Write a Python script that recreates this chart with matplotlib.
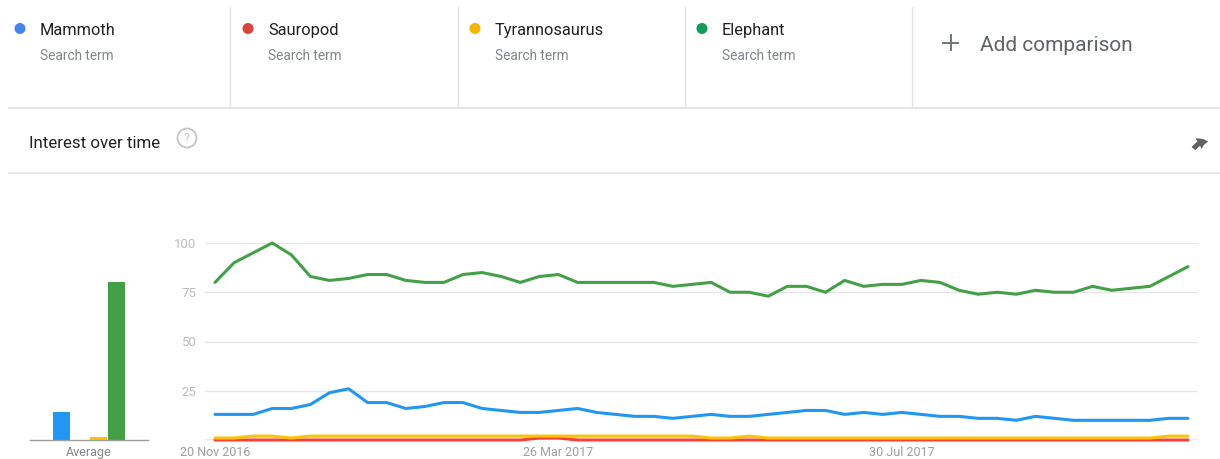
import matplotlib
matplotlib.use("Agg")
import matplotlib.pyplot as plt
from matplotlib.patches import Circle, FancyArrowPatch
import pandas as pd

# ---------------- data ----------------
terms = ["Mammoth", "Sauropod", "Tyrannosaurus", "Elephant"]
subtitle = "Search term"
line_colors = ["#2196F3", "#F44336", "#FFC107", "#43A047"]
dot_colors = ["#4285F4", "#DB4437", "#F4B400", "#0F9D58"]

start_week = "2016-11-20"
n_weeks = 52

mammoth = [13, 13, 13, 16, 16, 18, 24, 26, 19, 19,
           16, 17, 19, 19, 16, 15, 14, 14, 15, 16,
           14, 13, 12, 12, 11, 12, 13, 12, 12, 13,
           14, 15, 15, 13, 14, 13, 14, 13, 12, 12,
           11, 11, 10, 12, 11, 10, 10, 10, 10, 10,
           11, 11]
sauropod = [0, 0, 0, 0, 0, 0, 0, 0, 0, 0,
            0, 0, 0, 0, 0, 0, 0, 1, 1, 0,
            0, 0, 0, 0, 0, 0, 0, 0, 0, 0,
            0, 0, 0, 0, 0, 0, 0, 0, 0, 0,
            0, 0, 0, 0, 0, 0, 0, 0, 0, 0,
            0, 0]
tyrannosaurus = [1, 1, 2, 2, 1, 2, 2, 2, 2, 2,
                 2, 2, 2, 2, 2, 2, 2, 2, 2, 2,
                 2, 2, 2, 2, 2, 2, 1, 1, 2, 1,
                 1, 1, 1, 1, 1, 1, 1, 1, 1, 1,
                 1, 1, 1, 1, 1, 1, 1, 1, 1, 1,
                 2, 2]
elephant = [80, 90, 95, 100, 94, 83, 81, 82, 84, 84,
            81, 80, 80, 84, 85, 83, 80, 83, 84, 80,
            80, 80, 80, 80, 78, 79, 80, 75, 75, 73,
            78, 78, 75, 81, 78, 79, 79, 81, 80, 76,
            74, 75, 74, 76, 75, 75, 78, 76, 77, 78,
            83, 88]
averages = [14, 0, 1.5, 80]

y_ticks = [0, 25, 50, 75, 100]
y_tick_labels = ["", "25", "50", "75", "100"]
x_tick_dates = ["2016-11-20", "2017-03-26", "2017-07-30"]
x_tick_labels = ["20 Nov 2016", "26 Mar 2017", "30 Jul 2017"]

section_title = "Interest over time"
add_text = "Add comparison"
avg_label = "Average"

# ---------------- figure ----------------
plt.rcParams["font.family"] = ["Roboto", "DejaVu Sans"]
W, H = 1220, 459
fig = plt.figure(figsize=(W / 100, H / 100), dpi=100)
fig.patch.set_facecolor("white")

# overlay in pixel coordinates for the header decoration
ov = fig.add_axes([0, 0, 1, 1])
ov.set_xlim(0, W)
ov.set_ylim(H, 0)
ov.axis("off")
ov.patch.set_visible(False)

sep_color = "#e3e3e3"
ov.plot([9, W], [107.5, 107.5], color=sep_color, lw=1.2)
ov.plot([9, W], [173, 173], color=sep_color, lw=1.2)
for xs in [230, 458, 685, 912]:
    ov.plot([xs, xs], [7, 107], color=sep_color, lw=1.0)

item_x = [20, 248, 475, 702]
for x0, term, dc in zip(item_x, terms, dot_colors):
    ov.add_patch(Circle((x0, 28.5), 5.5, color=dc, lw=0))
    ov.text(x0 + 20, 35, term, fontsize=11.8, color="#202124",
            ha="left", va="baseline")
    ov.text(x0 + 20, 59.5, subtitle, fontsize=9.8, color="#80868b",
            ha="left", va="baseline")

# "+ Add comparison"
ov.plot([943, 958], [42.5, 42.5], color="#70757a", lw=1.4)
ov.plot([950.5, 950.5], [35, 50], color="#70757a", lw=1.4)
ov.text(980, 51, add_text, fontsize=15, color="#5f6368",
        ha="left", va="baseline")

# "Interest over time" + help icon + share arrow
ov.text(29, 147.5, section_title, fontsize=12.2, color="#202124",
        ha="left", va="baseline")
ov.add_patch(Circle((187, 138), 9.5, fill=False, ec="#c4c4c4", lw=1.3))
ov.text(187, 138.5, "?", fontsize=9, color="#c4c4c4", ha="center",
        va="center")
share = FancyArrowPatch((1192, 151), (1211, 142),
                        connectionstyle="arc3,rad=-0.35",
                        arrowstyle="simple,head_width=9,head_length=7,tail_width=3.5",
                        color="#616161", lw=0)
ov.add_patch(share)

# ---------------- average bars ----------------
bottom = (H - 440) / H
height = 197 / H
bax = fig.add_axes([30 / W, bottom, 118 / W, height])
pos = list(range(len(terms)))
bax.bar(pos, averages, width=0.93, color=line_colors, zorder=2)
bax.set_xlim(-1.72, 4.73)
bax.set_ylim(0, 100)
for s in ["top", "right", "left"]:
    bax.spines[s].set_visible(False)
bax.spines["bottom"].set_color("#9e9e9e")
bax.spines["bottom"].set_linewidth(1.0)
bax.set_yticks([])
bax.set_xticks([1.5])
bax.set_xticklabels([avg_label], fontsize=9, color="#80868b")
bax.tick_params(axis="x", length=0, pad=4)
bax.patch.set_visible(False)

# ---------------- line chart ----------------
dates = pd.date_range(start_week, periods=n_weeks, freq="7D")
ax = fig.add_axes([205 / W, bottom, 993 / W, height])
ax.patch.set_visible(False)
for yv in y_ticks[1:]:
    ax.axhline(yv, color="#e6e6e6", lw=1.0, zorder=1)
ax.axhline(0, color="#a0a0a0", lw=1.0, zorder=1)

series = [mammoth, sauropod, tyrannosaurus, elephant]
for vals, c in zip(series, line_colors):
    ax.plot(dates, vals, color=c, lw=2.2, solid_joinstyle="round",
            solid_capstyle="round", clip_on=False, zorder=3)

pad = pd.Timedelta(days=3.67)
ax.set_xlim(dates[0] - pad, dates[-1] + pad)
ax.set_ylim(0, 100)
for s in ax.spines.values():
    s.set_visible(False)
ax.set_yticks(y_ticks)
ax.set_yticklabels(y_tick_labels, fontsize=9.5, color="#bdbdbd")
ax.set_xticks(pd.to_datetime(x_tick_dates))
ax.set_xticklabels(x_tick_labels, fontsize=9, color="#9e9e9e")
ax.tick_params(axis="y", length=0, pad=6)
ax.tick_params(axis="x", length=0, pad=4)

fig.savefig("out.png", dpi=100, facecolor="white")
